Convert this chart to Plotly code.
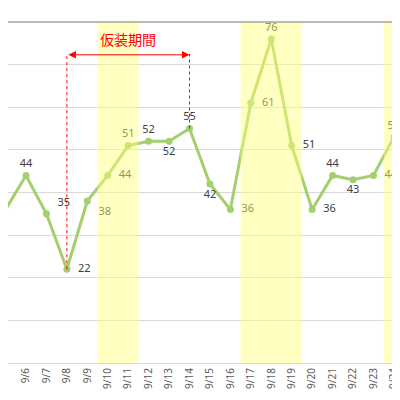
import plotly.graph_objects as go

days = list(range(5, 26))
labels = [f"9/{d}" for d in days]
values = [36, 44, 35, 22, 38, 44, 51, 52, 52, 55, 42, 36, 61, 76, 51, 36, 44, 43, 44, 53, 57]
positions = ["bottom right", "top center", "top right", "middle right", "bottom right",
             "middle right", "top center", "top center", "bottom center", "top center",
             "bottom center", "middle right", "middle right", "top center", "middle right",
             "middle right", "top center", "bottom center", "middle right", "top center", "top center"]
bands = [(9.5, 11.5), (16.5, 19.5), (23.5, 26)]

fig = go.Figure()
fig.add_trace(go.Scatter(
    x=days, y=values, mode="lines+markers+text",
    text=[f"  {v}  " for v in values], textposition=positions,
    textfont=dict(family="Noto Sans", size=11, color="#404040"),
    line=dict(color="#a4cf6e", width=3), marker=dict(size=7, color="#a4cf6e"),
    cliponaxis=False, showlegend=False))

shapes = []
for a, b in bands:
    shapes.append(dict(type="rect", xref="x", yref="paper", x0=a, x1=b, y0=0, y1=1,
                       fillcolor="rgba(255,255,120,0.45)", line_width=0, layer="above"))
for d in (8, 14):
    shapes.append(dict(type="line", xref="x", yref="y", x0=d, x1=d, y0=values[d - 5], y1=72.5,
                       line=dict(color="red", width=1, dash="dot")))
shapes.append(dict(type="line", xref="paper", yref="paper", x0=0, x1=1, y0=1, y1=1,
                   line=dict(color="#777", width=1)))
fig.update_layout(shapes=shapes)

fig.add_annotation(x=14, y=72.3, ax=8, ay=72.3, xref="x", yref="y", axref="x", ayref="y",
                   text="", showarrow=True, arrowhead=2, arrowside="end+start",
                   arrowcolor="red", arrowwidth=1, arrowsize=1.5)
fig.add_annotation(x=11, y=73.3, xref="x", yref="y", text="仮装期間", showarrow=False,
                   yanchor="bottom", font=dict(family="Noto Sans CJK JP", size=14, color="red"))

fig.update_layout(
    width=400, height=400, margin=dict(l=0, r=0, t=14, b=45, autoexpand=False),
    paper_bgcolor="white", plot_bgcolor="white",
    xaxis=dict(range=[5.12, 24.69], tickvals=days, ticktext=labels, tickangle=-90,
               tickfont=dict(family="Noto Sans", size=10, color="#595959"), automargin=False,
               showgrid=False, showline=True, linecolor="#d9d9d9", zeroline=False),
    yaxis=dict(range=[0, 80], dtick=10, showticklabels=False, gridcolor="#d9d9d9",
               zeroline=False, automargin=False),
)
fig.write_html("out.html")
